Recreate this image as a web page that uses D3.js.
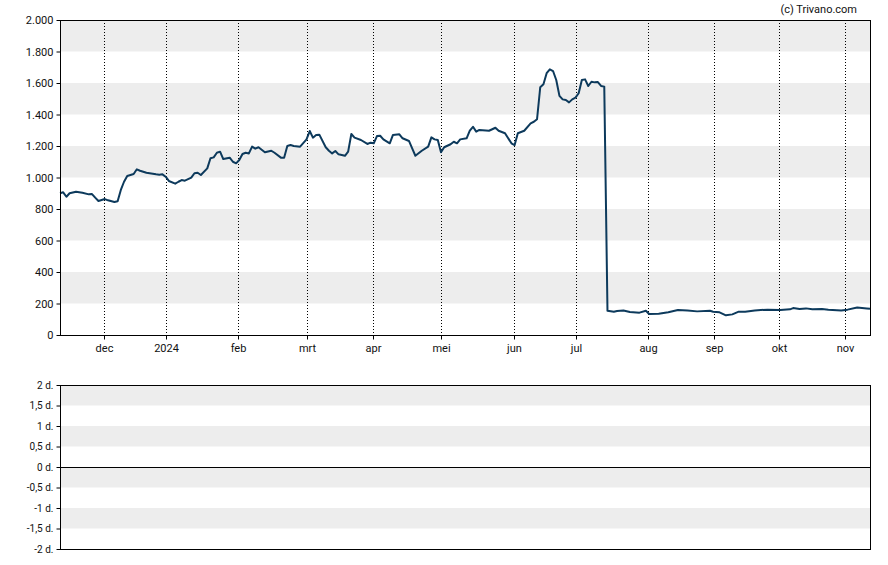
<!DOCTYPE html>
<html>
<head>
<meta charset="utf-8">
<script src="https://cdn.jsdelivr.net/npm/d3@7"></script>
<style>
  html, body { margin: 0; padding: 0; background: #fff; }
  svg { display: block; }
  text { font-family: Roboto, "Liberation Sans", Arial, sans-serif; fill: #111; }
</style>
</head>
<body>
<svg id="chart" width="888" height="565"></svg>
<script>
// ---- data (x = trading-day index, y = price) ----
const days = [0,1,2,3,5,7,9,10,11,12,14,15,17,18,19,20,21,23,24,25,27,30,31,32,33,34,36,37,38,39,41,42,43,44,46,47,48,49,50,51,53,54,55,56,57,58,59,60,61,62,64,66,67,69,70,71,72,73,75,77,78,79,80,81,83,84,85,86,87,89,90,91,92,94,96,97,98,99,100,101,103,104,106,107,109,110,111,113,115,116,117,118,119,120,122,123,124,125,127,128,129,130,131,134,136,137,139,141,142,143,145,147,148,149,150,151,152,153,154,155,156,157,158,159,160,161,162,163,164,165,166,167,168,169,170,171,173,174,176,178,181,183,184,187,190,193,196,199,203,204,206,208,210,212,214,217,221,225,228,229,231,233,235,238,240,244,246,249,252,253];
const prices = [900,906,878,900,910,903,893,895,872,851,863,855,844,849,921,973,1010,1022,1052,1043,1030,1020,1018,1020,1005,978,961,973,984,980,999,1027,1030,1016,1058,1122,1128,1157,1164,1117,1126,1100,1090,1111,1149,1157,1153,1196,1183,1192,1160,1170,1157,1126,1126,1200,1206,1200,1196,1242,1295,1253,1270,1272,1192,1170,1153,1168,1147,1138,1164,1276,1253,1238,1213,1221,1217,1263,1265,1242,1217,1270,1274,1249,1232,1185,1138,1170,1196,1255,1242,1238,1160,1192,1211,1227,1217,1242,1249,1297,1322,1291,1302,1297,1316,1297,1281,1217,1206,1281,1297,1344,1354,1370,1573,1592,1662,1687,1676,1619,1518,1496,1492,1477,1496,1507,1535,1619,1623,1581,1608,1604,1606,1581,1577,154,148,152,156,146,142,154,133,135,144,159,156,150,154,148,144,125,131,148,148,156,161,159,163,171,165,169,163,165,161,156,161,174,169,167];

const monthLabels = ["dec","2024","feb","mrt","apr","mei","jun","jul","aug","sep","okt","nov"];
const monthTicks  = [13.6,33.0,55.5,77.0,97.7,118.9,141.7,161.1,183.6,204.2,224.5,245.3];

const priceTicks  = [0,200,400,600,800,1000,1200,1400,1600,1800,2000];
const priceLabels = ["0","200","400","600","800","1.000","1.200","1.400","1.600","1.800","2.000"];

const lowerTicks  = [-2,-1.5,-1,-0.5,0,0.5,1,1.5,2];
const lowerLabels = ["-2 d.","-1,5 d.","-1 d.","-0,5 d.","0 d.","0,5 d.","1 d.","1,5 d.","2 d."];

// ---- layout ----
const svg = d3.select("#chart");
const L = 60, R = 870;
const top1 = 20, bot1 = 335;
const top2 = 385, bot2 = 549;
const bandColor = "#ededed";
const lineColor = "#0d3a5c";

const x = d3.scaleLinear().domain([0, 253]).range([L, R]);
const y = d3.scaleLinear().domain([0, 2000]).range([bot1, top1]);
const y2 = d3.scaleLinear().domain([-2, 2]).range([bot2, top2]);

// ---- upper panel bands ----
const bandPairs = d3.pairs(priceTicks).filter((p, i) => i % 2 === 1);
svg.append("g").selectAll("rect").data(bandPairs).join("rect")
  .attr("x", L).attr("width", R - L)
  .attr("y", d => y(d[1])).attr("height", d => y(d[0]) - y(d[1]))
  .attr("fill", bandColor);

// vertical dotted month gridlines
svg.append("g").selectAll("line").data(monthTicks).join("line")
  .attr("x1", d => Math.round(x(d)) + 0.5).attr("x2", d => Math.round(x(d)) + 0.5)
  .attr("y1", top1).attr("y2", bot1)
  .attr("stroke", "#000").attr("stroke-width", 1).attr("stroke-dasharray", "1,2");

// price line
const line = d3.line().x((d, i) => x(days[i])).y(d => y(d));
svg.append("path").datum(prices)
  .attr("d", line).attr("fill", "none")
  .attr("stroke", lineColor).attr("stroke-width", 2).attr("stroke-linejoin", "round");

// y axis (upper)
const yAxis = d3.axisLeft(y).tickValues(priceTicks).tickSize(4).tickPadding(3)
  .tickFormat((d, i) => priceLabels[i]);
const gy = svg.append("g").attr("transform", `translate(${L + 0.5},0)`).call(yAxis);
gy.select(".domain").remove();
gy.selectAll("text").style("font-size", "11px").attr("fill", "#111");

// x axis (upper)
const xAxis = d3.axisBottom(x).tickValues(monthTicks).tickSize(4).tickPadding(5)
  .tickFormat((d, i) => monthLabels[i]);
const gx = svg.append("g").attr("transform", `translate(0,${bot1 + 0.5})`).call(xAxis);
gx.select(".domain").remove();
gx.selectAll(".tick").attr("transform", d => `translate(${Math.round(x(d)) + 0.5},0)`);
gx.selectAll("text").style("font-size", "11px").attr("fill", "#111");

// frame upper
svg.append("rect").attr("x", L + 0.5).attr("y", top1 + 0.5)
  .attr("width", R - L).attr("height", bot1 - top1)
  .attr("fill", "none").attr("stroke", "#000").attr("stroke-width", 1);

// ---- lower panel ----
const lowerPairs = d3.pairs(lowerTicks).filter((p, i) => i % 2 === 1);
svg.append("g").selectAll("rect").data(lowerPairs).join("rect")
  .attr("x", L).attr("width", R - L)
  .attr("y", d => y2(d[1])).attr("height", d => y2(d[0]) - y2(d[1]))
  .attr("fill", bandColor);

const y2Axis = d3.axisLeft(y2).tickValues(lowerTicks).tickSize(4).tickPadding(3)
  .tickFormat((d, i) => lowerLabels[i]);
const gy2 = svg.append("g").attr("transform", `translate(${L + 0.5},0)`).call(y2Axis);
gy2.select(".domain").remove();
gy2.selectAll("text").style("font-size", "10px").attr("fill", "#111");

svg.append("line").attr("x1", L).attr("x2", R)
  .attr("y1", Math.round(y2(0)) + 0.5).attr("y2", Math.round(y2(0)) + 0.5)
  .attr("stroke", "#000").attr("stroke-width", 1);

svg.append("rect").attr("x", L + 0.5).attr("y", top2 + 0.5)
  .attr("width", R - L).attr("height", bot2 - top2)
  .attr("fill", "none").attr("stroke", "#000").attr("stroke-width", 1);

// copyright
svg.append("text").attr("x", 857).attr("y", 13).attr("text-anchor", "end")
  .style("font-size", "11px").text("(c) Trivano.com");
</script>
</body>
</html>
